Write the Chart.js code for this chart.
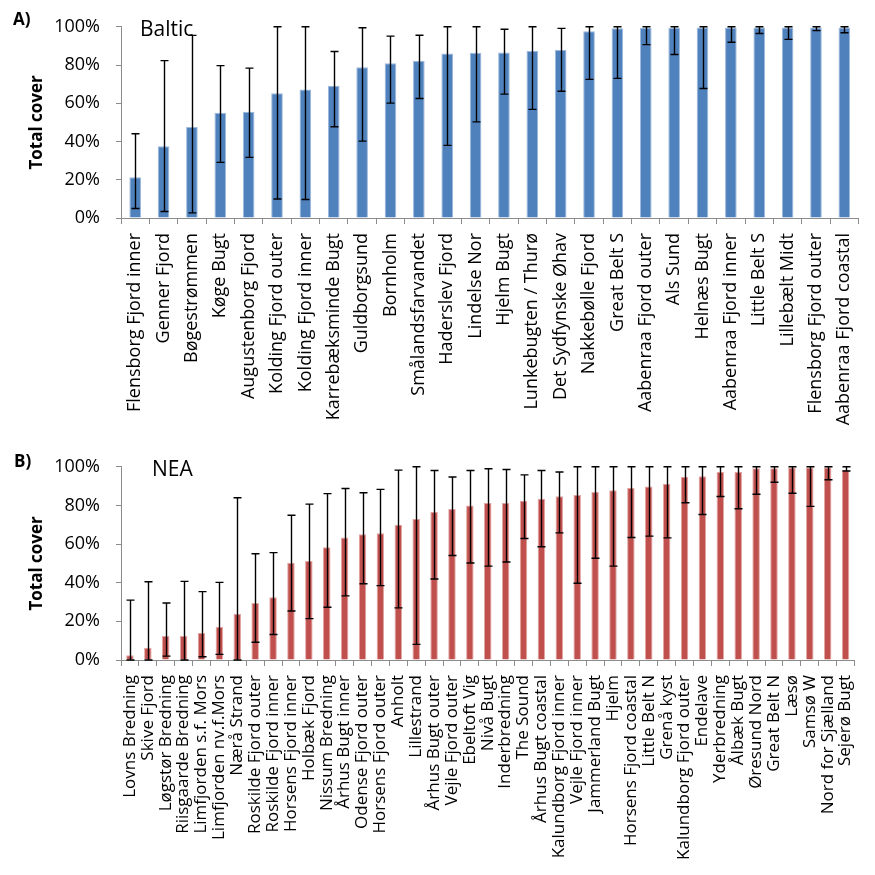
<!DOCTYPE html>
<html>
<head>
<meta charset="utf-8">
<script src="https://cdn.jsdelivr.net/npm/chart.js@4/dist/chart.umd.min.js"></script>
<style>
  html, body { margin: 0; padding: 0; background: #fff; }
  #wrap { position: relative; width: 875px; height: 875px; }
  #baltic { position: absolute; left: 0; top: 0; }
  #nea { position: absolute; left: 0; top: 440px; }
</style>
</head>
<body>
<div id="wrap">
  <canvas id="baltic" width="875" height="440"></canvas>
  <canvas id="nea" width="875" height="435"></canvas>
</div>
<script>
// ---- Baltic sites: mean total cover (%) with lower / upper range ----
const balticSites = [
  'Flensborg Fjord inner', 'Genner Fjord', 'Bøgestrømmen', 'Køge Bugt',
  'Augustenborg Fjord', 'Kolding Fjord outer', 'Kolding Fjord inner',
  'Karrebæksminde Bugt', 'Guldborgsund', 'Bornholm', 'Smålandsfarvandet',
  'Haderslev Fjord', 'Lindelse Nor', 'Hjelm Bugt', 'Lunkebugten / Thurø',
  'Det Sydfynske Øhav', 'Nakkebølle Fjord', 'Great Belt S',
  'Aabenraa Fjord outer', 'Als Sund', 'Helnæs Bugt', 'Aabenraa Fjord inner',
  'Little Belt S', 'Lillebælt Midt', 'Flensborg Fjord outer',
  'Aabenraa Fjord coastal'
];
const balticCover = [
  21.3, 37.5, 47.6, 55.1, 55.6, 65.3, 67.2, 69.2, 78.9, 80.9, 82.2,
  86.1, 86.4, 86.6, 87.4, 87.9, 97.7, 99.2, 99.5, 99.5, 99.6, 99.6,
  99.6, 99.6, 99.6, 99.6
];
const balticLow = [
  5.0, 3.4, 2.7, 29.1, 31.7, 9.9, 9.7, 47.7, 40.2, 60.1, 62.5,
  38.0, 50.3, 64.8, 56.8, 66.3, 72.5, 73.0, 90.7, 85.5, 67.7, 91.9,
  96.5, 93.4, 98.0, 96.9
];
const balticHigh = [
  44.1, 82.3, 95.5, 79.7, 78.4, 100, 100, 87.1, 99.5, 95.1, 95.6,
  100, 100, 98.7, 100, 99.2, 100, 100, 100, 100, 100, 100,
  100, 100, 100, 100
];

// ---- NEA sites ----
const neaSites = [
  'Lovns Bredning', 'Skive Fjord', 'Løgstør Bredning', 'Riisgaarde Bredning',
  'Limfjorden s.f. Mors', 'Limfjorden nv.f.Mors', 'Nærå Strand',
  'Roskilde Fjord outer', 'Roskilde Fjord inner', 'Horsens Fjord inner',
  'Holbæk Fjord', 'Nissum Bredning', 'Århus Bugt inner', 'Odense Fjord outer',
  'Horsens Fjord outer', 'Anholt', 'Lillestrand', 'Århus Bugt outer',
  'Vejle Fjord outer', 'Ebeltoft Vig', 'Nivå Bugt', 'Inderbredning',
  'The Sound', 'Århus Bugt coastal', 'Kalundborg Fjord inner',
  'Vejle Fjord inner', 'Jammerland Bugt', 'Hjelm', 'Horsens Fjord coastal',
  'Little Belt N', 'Grenå kyst', 'Kalundborg Fjord outer', 'Endelave',
  'Yderbredning', 'Ålbæk Bugt', 'Øresund Nord', 'Great Belt N', 'Læsø',
  'Samsø W', 'Nord for Sjælland', 'Sejerø Bugt'
];
const neaCover = [
  2.5, 6.3, 12.4, 12.4, 14.0, 17.1, 23.9, 29.5, 32.5, 50.3, 51.2,
  58.3, 63.4, 65.1, 65.6, 70.0, 73.0, 76.6, 78.1, 80.0, 81.2, 81.2,
  82.4, 83.4, 84.7, 85.4, 86.9, 87.8, 89.2, 89.8, 91.2, 94.9, 95.1,
  97.3, 97.3, 99.2, 99.3, 99.6, 99.7, 99.6, 98.4
];
const neaLow = [
  0, 0, 2.0, 0, 1.7, 2.9, 0, 9.2, 13.2, 25.4, 21.4,
  27.3, 33.2, 39.5, 38.5, 27.0, 8.1, 41.9, 54.1, 50.2, 48.6, 50.7,
  62.9, 58.6, 65.8, 39.7, 52.7, 48.6, 63.4, 64.1, 63.2, 81.4, 75.3,
  84.6, 78.3, 85.8, 92.0, 86.3, 79.5, 93.3, 97.8
];
const neaHigh = [
  31.0, 40.5, 29.5, 40.7, 35.4, 40.2, 84.0, 55.0, 55.6, 74.9, 80.7,
  86.1, 88.8, 86.6, 88.3, 98.3, 100, 98.1, 94.7, 98.1, 99.0, 98.6,
  95.8, 98.1, 97.3, 100, 100, 100, 100, 100, 100, 100, 100,
  100, 100, 100, 100, 100, 100, 100, 100
];

const yTicks = [0, 20, 40, 60, 80, 100];

// Draws the range whiskers for the bars using the chart's own scales.
const rangeWhiskers = {
  id: 'rangeWhiskers',
  afterDatasetsDraw(chart, args, opts) {
    const ctx = chart.ctx;
    const yScale = chart.scales.y;
    const meta = chart.getDatasetMeta(0);
    const half = opts.cap / 2;
    ctx.save();
    ctx.strokeStyle = opts.color;
    ctx.lineWidth = opts.width;
    meta.data.forEach((bar, i) => {
      const x = Math.round(bar.x) + 0.5;
      const yLo = yScale.getPixelForValue(opts.low[i]);
      const yHi = yScale.getPixelForValue(opts.high[i]);
      ctx.beginPath();
      ctx.moveTo(x, yLo);
      ctx.lineTo(x, yHi);
      ctx.moveTo(x - half, yHi);
      ctx.lineTo(x + half, yHi);
      ctx.moveTo(x - half, yLo);
      ctx.lineTo(x + half, yLo);
      ctx.stroke();
    });
    ctx.restore();
  }
};

// Panel letter and region name.
const panelText = {
  id: 'panelText',
  beforeDatasetsDraw(chart, args, opts) {
    const ctx = chart.ctx;
    ctx.save();
    ctx.fillStyle = '#000';
    ctx.textBaseline = 'middle';
    ctx.textAlign = 'left';
    opts.items.forEach(t => {
      ctx.font = t.font;
      ctx.fillText(t.text, t.x, t.y);
    });
    ctx.restore();
  }
};

function makePanel(canvasId, cfg) {
  return new Chart(document.getElementById(canvasId), {
    type: 'bar',
    data: {
      labels: cfg.labels,
      datasets: [{
        data: cfg.values,
        backgroundColor: cfg.fill,
        borderColor: cfg.edge,
        borderWidth: 1,
        categoryPercentage: 1.0,
        barPercentage: cfg.barPct
      }]
    },
    options: {
      responsive: false,
      animation: false,
      events: [],
      layout: {
        autoPadding: false,
        padding: { top: cfg.top, right: 3, left: 0, bottom: 0 }
      },
      plugins: {
        legend: { display: false },
        tooltip: { enabled: false },
        rangeWhiskers: { low: cfg.low, high: cfg.high, color: '#000', width: 1.4, cap: 8 },
        panelText: { items: cfg.texts }
      },
      scales: {
        x: {
          grid: {
            display: true, drawOnChartArea: false, drawTicks: true,
            tickLength: 6, color: '#8c8c8c', offset: true
          },
          border: { display: true, color: '#8c8c8c', width: 1 },
          ticks: {
            autoSkip: false, minRotation: 90, maxRotation: 90, padding: 9,
            color: '#000', font: { family: 'Open Sans', size: cfg.labelSize }
          },
          afterFit(scale) { scale.height = cfg.xHeight; }
        },
        y: {
          min: 0, max: 100,
          afterBuildTicks(scale) { scale.ticks = yTicks.map(v => ({ value: v })); },
          ticks: {
            callback: v => v + '%', padding: 16, color: '#000',
            font: { family: 'Open Sans', size: 18 }
          },
          grid: { drawOnChartArea: false, drawTicks: true, tickLength: 5, color: '#8c8c8c' },
          border: { display: true, color: '#8c8c8c', width: 1 },
          title: {
            display: true, text: 'Total cover', color: '#000',
            font: { family: 'Open Sans', size: 17, weight: 'bold' },
            padding: { top: 27, bottom: 0 }
          },
          afterFit(scale) { scale.width = 121; }
        }
      }
    },
    plugins: [rangeWhiskers, panelText]
  });
}

makePanel('baltic', {
  labels: balticSites, values: balticCover, low: balticLow, high: balticHigh,
  fill: '#4F81BD', edge: '#9DB9DC', barPct: 0.41, top: 19, xHeight: 222,
  labelSize: 18,
  texts: [
    { text: 'A)', x: 13, y: 20, font: 'bold 17px "Open Sans"' },
    { text: 'Baltic', x: 140, y: 30, font: '21px "Open Sans"' }
  ]
});

makePanel('nea', {
  labels: neaSites, values: neaCover, low: neaLow, high: neaHigh,
  fill: '#C0504D', edge: '#E2A6A4', barPct: 0.42, top: 23, xHeight: 215,
  labelSize: 17,
  texts: [
    { text: 'B)', x: 14, y: 22, font: 'bold 17px "Open Sans"' },
    { text: 'NEA', x: 152, y: 30, font: '21px "Open Sans"' }
  ]
});
</script>
</body>
</html>
